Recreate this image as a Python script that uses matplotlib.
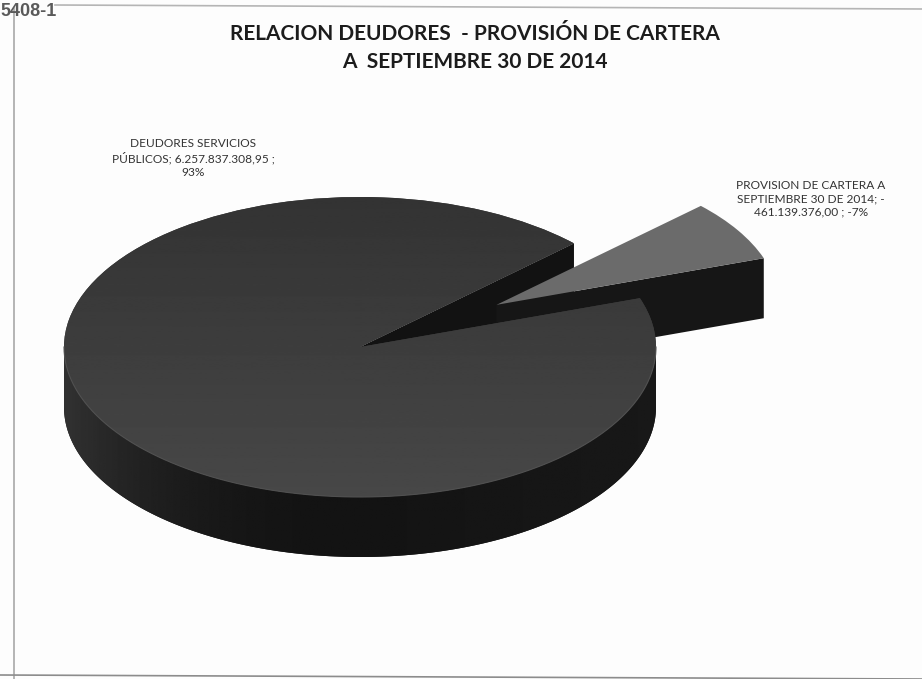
import numpy as np
import matplotlib
matplotlib.use("Agg")
import matplotlib.pyplot as plt

# values as printed on the data labels (provision is negative in the source)
categories = ["PROVISION DE CARTERA", "DEUDORES SERVICIOS"]
values = [461139376.00, 6257837308.95]
label_texts = [
    "PROVISION DE CARTERA A\nSEPTIEMBRE 30 DE 2014; -\n461.139.376,00 ; -7%",
    "DEUDORES SERVICIOS\nPÚBLICOS; 6.257.837.308,95 ;\n93%",
]
title_lines = "RELACION DEUDORES  - PROVISIÓN DE CARTERA\nA  SEPTIEMBRE 30 DE 2014"
corner_label = "5408-1"

W, H = 922, 679
CX, CY = 360, 347  # pie centre, pixels
RX, RY = 296, 150  # radii of the flattened pie
DEPTH = 60 / RY
START = 19
EXPLODE = 0.54
SMALL_R = 0.955  # the exploded slice looks smaller in the original perspective

plt.rcParams["font.family"] = ["Lato", "DejaVu Sans"]
fig = plt.figure(figsize=(W / 100, H / 100), dpi=100, facecolor="#fdfdfd")
ax = fig.add_axes([0, 0, 1, 1])


def px(x, y):
    return (x - CX) / RX, (CY - y) / RY


fractions = np.array(values) / sum(values)
sweep = fractions * 360
small_a0, small_a1 = START, START + sweep[0]
big_a0 = small_a1
mid = np.radians((small_a0 + small_a1) / 2)
ex_x, ex_y = EXPLODE * np.cos(mid), EXPLODE * np.sin(mid)


def inner_wall(a, cx=0.0, cy=0.0, r=1.0, color="#161616", z=1):
    t = np.radians(a)
    xs = [cx, cx + r * np.cos(t), cx + r * np.cos(t), cx]
    ys = [cy, cy + r * np.sin(t), cy + r * np.sin(t) - DEPTH, cy - DEPTH]
    ax.fill(xs, ys, color=color, lw=0, zorder=z)


# back face of the big slice
inner_wall(big_a0, color="#121212", z=1)

# front wall of the disc, shaded across with a clipped gradient
front = np.radians(np.linspace(180, 360, 200))
wall_x = np.cos(front)
wall_y = np.sin(front)
wall = ax.fill(np.r_[wall_x, wall_x[::-1]], np.r_[wall_y, wall_y[::-1] - DEPTH], color="#161616", lw=0, zorder=2)[0]
xg = np.linspace(-1, 1, 400)
wall_shade = 0.075 + 0.12 * np.clip(-xg, 0, 1) ** 2.5 + 0.02 * np.clip(xg, 0, 1)
wall_im = ax.imshow(wall_shade.reshape(1, -1), extent=(-1, 1, -1 - DEPTH, 0), cmap="gray", vmin=0, vmax=1,
                    aspect="auto", zorder=2.5)
wall_im.set_clip_path(wall)

# exploded slice: wall first, then its top through pie()
inner_wall(small_a0, ex_x, ex_y, r=SMALL_R, color="#161616", z=3)

wedges, _ = ax.pie(values, startangle=START, counterclock=True, explode=[EXPLODE, 0],
                   colors=["#6b6b6b", "#3b3b3b"], radius=1.0,
                   wedgeprops={"lw": 0})
wedges[0].set_radius(SMALL_R)
wedges[0].set_zorder(4)
wedges[1].set_zorder(5)

# subtle sheen on the top of the big slice
grad = np.linspace(0.20, 0.28, 256).reshape(-1, 1)
im = ax.imshow(grad, extent=(-1, 1, -1, 1), origin="upper", cmap="gray", vmin=0, vmax=1,
               aspect="auto", zorder=5.5)
im.set_clip_path(wedges[1])

# lighter rim along the front edge of the top
ax.plot(wall_x, wall_y, color="#505050", lw=0.8, zorder=6)

ax.set_aspect("auto")
ax.set_xlim(-CX / RX, (W - CX) / RX)
ax.set_ylim((CY - H) / RY, CY / RY)
ax.axis("off")

# scanned page frame
ax.plot(*zip(px(55, 5), px(922, 9)), color="#b5b5b5", lw=1.2, zorder=1)
ax.plot(*zip(px(14, 8), px(14, 679)), color="#a8a8a8", lw=1.2, zorder=1)
ax.plot(*zip(px(0, 675), px(922, 679)), color="#8c8c8c", lw=1.2, zorder=1)

fig.text(0 / W, 1 - 11 / H, corner_label, fontsize=13, color="#5a5a5a", family="Liberation Sans",
         weight="bold", ha="left", va="center")
fig.text(475 / W, 1 - 48 / H, title_lines, fontsize=15, weight="bold", color="#1c1c1c",
         ha="center", va="center", linespacing=1.45)
fig.text(193 / W, 1 - 158 / H, label_texts[1], fontsize=8.6, color="#333333",
         ha="center", va="center", linespacing=1.25)
fig.text(811 / W, 1 - 199 / H, label_texts[0], fontsize=8.6, color="#333333",
         ha="center", va="center", linespacing=1.25)

fig.savefig("out.png", dpi=100, facecolor=fig.get_facecolor())
